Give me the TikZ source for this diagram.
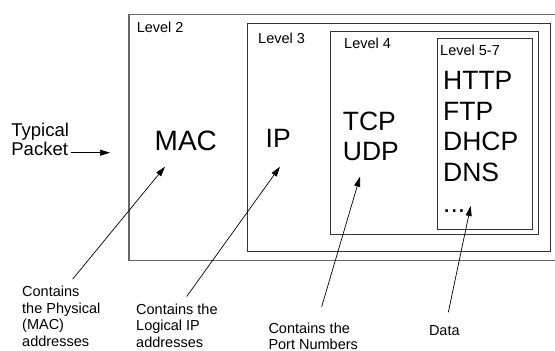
\documentclass[tikz,border=0pt]{standalone}
\usepackage{fontspec}
\setmainfont{Liberation Sans}
\usetikzlibrary{arrows.meta}
\begin{document}
\begin{tikzpicture}[x=1pt,y=-1pt,>={Triangle[length=10pt,width=6pt]},
  box/.style={draw=black!80,line width=0.9pt},
  lvl/.style={inner sep=0pt,anchor=base west,font=\fontsize{14.5}{16.5}\selectfont},
  proto/.style={inner sep=0pt,anchor=base west,align=left,font=\fontsize{26.5}{30.7}\selectfont},
  note/.style={inner sep=0pt,anchor=base west,align=left,font=\fontsize{14.5}{16.4}\selectfont},
  pointer/.style={->,line width=0.7pt}]
\useasboundingbox (0,0) rectangle (555,351);
% nested boxes
\draw[draw=black!60,line width=1.3pt] (556,14.3) -| (129,260.7) -- (556,260.7);
\draw[box] (247.7,23.7) rectangle (550.7,251.5);
\draw[box] (330.5,31.7) rectangle (538.5,234.5);
\draw[box] (437.3,38.3) rectangle (532.5,229);
\node[lvl] (lvltwo) at (136.6,32.3) {Level 2};
\node[lvl] (lvlthree) at (258,43.3) {Level 3};
\node[lvl] (lvlfour) at (344,48.3) {Level 4};
\node[lvl] (lvlfive) at (440,55) {Level 5-7};
% base anchor = baseline of last line
\node[proto,font=\fontsize{28}{30.7}\selectfont] (mac) at (154.5,150.7) {MAC};
\node[proto] (ip) at (265.5,147.7) {IP};
\node[proto] (tcp) at (342.7,160.7) {TCP\\UDP};
\node[proto] (app) at (443,212.1) {HTTP\\FTP\\DHCP\\DNS\\...};
\node[inner sep=0pt,anchor=base west,align=left,font=\fontsize{18.5}{19.7}\selectfont] (packet) at (11.2,155.7) {Typical\\Packet};
\node[note] (phys) at (22,346) {Contains\\the Physical\\(MAC)\\addresses};
\node[note] (logic) at (136,347) {Contains the\\Logical IP\\addresses};
\node[note] (port) at (268.3,349.8) {Contains the\\Port Numbers};
\node[note] (data) at (428.8,335) {Data};
% arrow tips
\coordinate (pktTip) at (110,152.7);
\coordinate (macTip) at (165,166.7);
\coordinate (ipTip) at (280,166.7);
\coordinate (tcpTip) at (360,176.7);
\coordinate (dataTip) at (470.7,206);
\draw[pointer] ([xshift=2pt]pktTip -| packet.east) -- (pktTip);
\draw[pointer] ([shift={(50.7,-7)}]phys.north west) -- (macTip);
\draw[pointer] ([shift={(50.7,-7)}]logic.north west) -- (ipTip);
\draw[pointer] ([shift={(53.4,-16)}]port.north west) -- (tcpTip);
\draw[pointer] ([shift={(19.5,-12.5)}]data.north west) -- (dataTip);
\end{tikzpicture}
\end{document}
